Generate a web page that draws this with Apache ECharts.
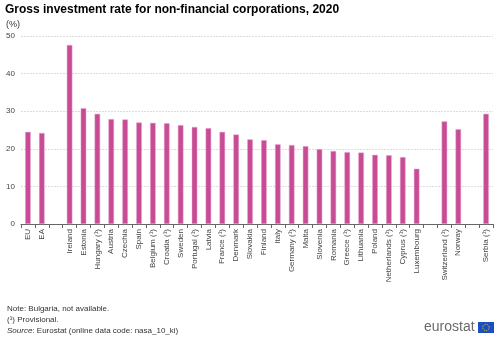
<!DOCTYPE html>
<html><head><meta charset="utf-8">
<script src="https://cdn.jsdelivr.net/npm/echarts@6/dist/echarts.min.js"></script>
<style>html,body{margin:0;padding:0;background:#fff}#c{width:500px;height:339px}</style>
</head><body><div id="c"></div>
<script>
var categories = ['EU','EA','','Ireland','Estonia','Hungary (¹)','Austria','Czechia','Spain','Belgium (¹)','Croatia (¹)','Sweden','Portugal (¹)','Latvia','France (¹)','Denmark','Slovakia','Finland','Italy','Germany (¹)','Malta','Slovenia','Romania','Greece (¹)','Lithuania','Poland','Netherlands (¹)','Cyprus (¹)','Luxembourg','','Switzerland (¹)','Norway','','Serbia (¹)'];
var values = [24.5,24.2,null,47.6,30.8,29.3,27.9,27.8,27.0,26.9,26.8,26.3,25.8,25.5,24.5,23.8,22.5,22.3,21.2,21.0,20.7,19.9,19.4,19.1,19.0,18.4,18.3,17.8,14.7,null,27.3,25.2,null,29.3];
var yTicks = [0,10,20,30,40,50];

var chart = echarts.init(document.getElementById('c'), null, {renderer:'canvas'});
chart.setOption({
  animation:false,
  title:[
    {text:'Gross investment rate for non-financial corporations, 2020', left:5, top:4, padding:0,
     textStyle:{fontFamily:'Liberation Sans, Arial', fontSize:12, fontWeight:'bold', color:'#000'}},
    {text:'(%)', left:6, top:20, padding:0, textStyle:{fontFamily:'Liberation Sans, Arial', fontSize:9, fontWeight:'normal', color:'#333'}}
  ],
  grid:{left:21, right:7, top:36, bottom:115, containLabel:false},
  xAxis:{type:'category', data:categories, boundaryGap:true,
    axisLine:{lineStyle:{color:'#666', width:1}},
    axisTick:{show:true, alignWithLabel:false, length:4, lineStyle:{color:'#666'}},
    axisLabel:{rotate:90, interval:0, fontFamily:'Liberation Sans, Arial', fontSize:8, color:'#444', margin:5}
  },
  yAxis:{type:'value', min:yTicks[0], max:yTicks[yTicks.length-1], interval:10,
    axisLine:{show:false}, axisTick:{show:false},
    axisLabel:{fontFamily:'Liberation Sans, Arial', fontSize:8, color:'#444', margin:6},
    splitLine:{lineStyle:{color:'#dcdcdc', type:[2,1], width:1}}
  },
  series:[{type:'bar', data:values, barWidth:'40%',
    itemStyle:{color:'#c84b96', borderColor:'#e8a5cb', borderWidth:0.5}}],
  graphic:[
    {type:'text', left:7, top:305, style:{text:'Note: Bulgaria, not available.', fontFamily:'Liberation Sans, Arial', fontSize:8, fill:'#333'}},
    {type:'text', left:7, top:316, style:{text:'(¹) Provisional.', fontFamily:'Liberation Sans, Arial', fontSize:8, fill:'#333'}},
    {type:'text', left:7, top:327, style:{rich:{i:{fontStyle:'italic',fontFamily:'Liberation Sans, Arial', fontSize:8, fill:'#333'},n:{fontFamily:'Liberation Sans, Arial', fontSize:8, fill:'#333'}}, text:'{i|Source}{n|: Eurostat (online data code: nasa_10_ki)}'}},
    {type:'text', left:424, top:320, style:{text:'eurostat', fontFamily:'Liberation Sans, Arial', fontSize:14, fill:'#6a6a6a'}},
    {type:'rect', shape:{x:478, y:322, width:16, height:11}, style:{fill:'#1a4fc4'}},
    {type:'circle', shape:{cx:486, cy:327.5, r:3.2}, style:{fill:'none', stroke:'#f5d000', lineWidth:1, lineDash:[1,1]}}
  ]
});
</script></body></html>
